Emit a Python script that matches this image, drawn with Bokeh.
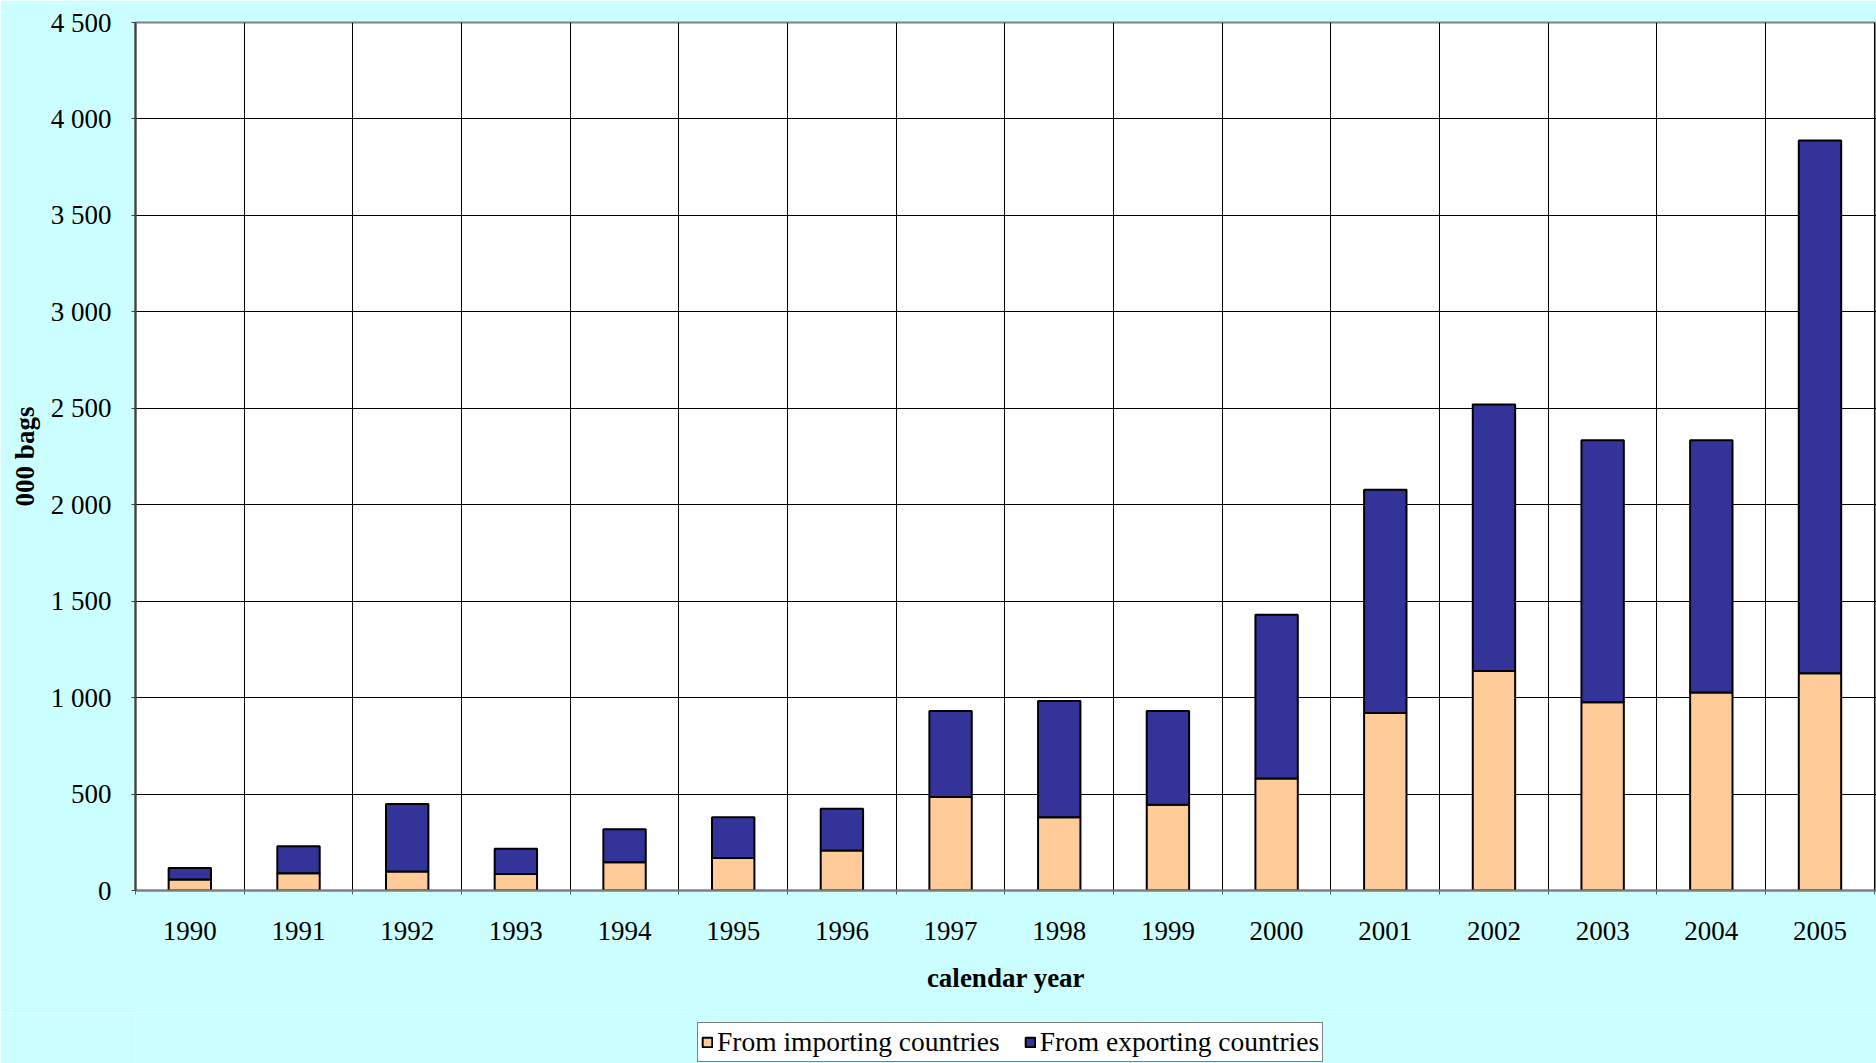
from bokeh.plotting import figure
from bokeh.models import FixedTicker, Legend, LegendItem, ColumnDataSource, Range1d
from bokeh.layouts import column
from bokeh.embed import file_html
from bokeh.resources import INLINE

years = ["1990", "1991", "1992", "1993", "1994", "1995", "1996", "1997",
         "1998", "1999", "2000", "2001", "2002", "2003", "2004", "2005"]
importing = [57, 90, 98, 85, 147, 169, 208, 485, 380, 444, 580, 920, 1138, 976, 1026, 1126]
exporting = [59, 140, 351, 131, 171, 211, 216, 446, 602, 486, 850, 1158, 1382, 1358, 1308, 2762]
series_labels = ["From importing countries", "From exporting countries"]
series_colors = ["#FFCC99", "#333399"]
y_ticks = [0, 500, 1000, 1500, 2000, 2500, 3000, 3500, 4000, 4500]
y_tick_labels = ["0", "500", "1 000", "1 500", "2 000", "2 500", "3 000", "3 500", "4 000", "4 500"]

FONT = "Liberation Serif"
FS = "27px"
BG = "#CCFFFF"

xs = list(range(len(years)))
source = ColumnDataSource(dict(x=xs, importing=importing, exporting=exporting))

p = figure(width=1876, height=1015, output_backend="svg", toolbar_location=None,
           x_range=Range1d(-0.5, 15.52), y_range=Range1d(0, 4500),
           min_border_left=135, min_border_top=22, min_border_bottom=125, min_border_right=0)

p.background_fill_color = "white"
p.border_fill_color = BG
p.outline_line_color = "#808080"
p.outline_line_width = 2

renderers = p.vbar_stack(["importing", "exporting"], x="x", width=0.39, source=source,
                         color=series_colors, line_color="black", line_width=2)

# grids
p.ygrid.ticker = FixedTicker(ticks=y_ticks)
p.ygrid.grid_line_color = "black"
p.ygrid.grid_line_width = 1
p.xgrid.ticker = FixedTicker(ticks=[i + 0.5 for i in xs])
p.xgrid.grid_line_color = "black"
p.xgrid.grid_line_width = 1

# axes
p.yaxis.ticker = FixedTicker(ticks=y_ticks)
p.yaxis.major_label_overrides = {t: l for t, l in zip(y_ticks, y_tick_labels)}
p.yaxis.axis_label = "000 bags"
p.yaxis.axis_line_color = "#404040"
p.yaxis.axis_line_width = 2
p.yaxis.major_tick_in = 0
p.yaxis.major_tick_out = 4
p.yaxis.major_tick_line_color = "#404040"
p.yaxis.minor_tick_line_color = None
p.yaxis.major_label_standoff = 20
p.yaxis.axis_label_standoff = 8

p.xaxis.ticker = FixedTicker(ticks=xs, minor_ticks=[i - 0.5 for i in xs] + [15.5])
p.xaxis.major_label_overrides = {i: y for i, y in zip(xs, years)}
p.xaxis.axis_label = "calendar year"
p.xaxis.axis_line_color = "#808080"
p.xaxis.axis_line_width = 2
p.xaxis.major_tick_line_color = None
p.xaxis.minor_tick_line_color = "#606060"
p.xaxis.minor_tick_in = 0
p.xaxis.minor_tick_out = 4
p.xaxis.major_label_standoff = 25
p.xaxis.axis_label_standoff = 20

for ax in (p.xaxis, p.yaxis):
    ax.major_label_text_font = FONT
    ax.major_label_text_font_size = FS
    ax.major_label_text_color = "black"
    ax.axis_label_text_font = FONT
    ax.axis_label_text_font_size = FS
    ax.axis_label_text_font_style = "bold"
    ax.axis_label_text_color = "black"

# legend strip below the chart (hidden copies of the series, only their legend shows)
p2 = figure(width=1876, height=48, output_backend="svg", toolbar_location=None,
            x_range=Range1d(-0.5, 15.52), y_range=Range1d(0, 4500),
            x_axis_location=None, y_axis_location=None, min_border=0)
p2.grid.visible = False
p2.outline_line_color = None
p2.background_fill_color = BG
p2.border_fill_color = BG
legend_renderers = [p2.vbar(x="x", top=col, width=0.39, source=source, fill_color=c,
                            line_color="black", line_width=2, visible=False)
                    for col, c in zip(["importing", "exporting"], series_colors)]

legend = Legend(items=[LegendItem(label=series_labels[0], renderers=[legend_renderers[0]]),
                       LegendItem(label=series_labels[1], renderers=[legend_renderers[1]])],
                orientation="horizontal", location=(562, 1))
legend.label_text_font = FONT
legend.label_text_font_size = "27.5px"
legend.label_text_color = "black"
legend.border_line_color = "black"
legend.border_line_width = 1
legend.background_fill_color = "white"
legend.background_fill_alpha = 1
legend.inactive_fill_alpha = 0
legend.glyph_width = 12
legend.glyph_height = 12
legend.label_standoff = 4
legend.spacing = 24
legend.padding = 3
legend.margin = 0
legend.label_height = 20
p2.add_layout(legend, "center")

layout = column(p, p2, spacing=0)
open("out.html", "w").write(file_html(layout, INLINE))
